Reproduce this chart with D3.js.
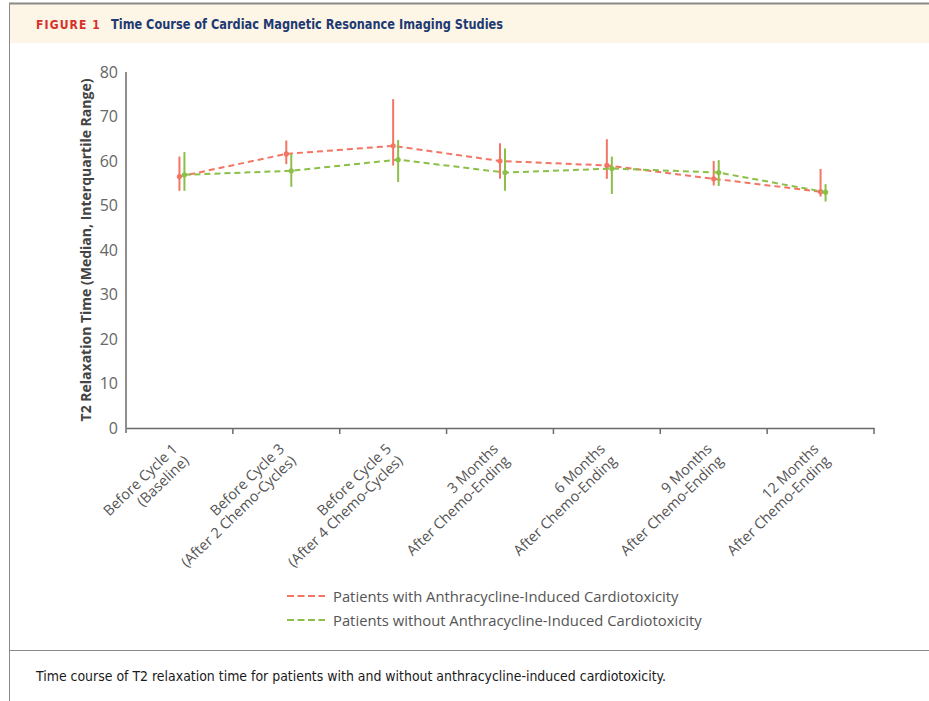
<!DOCTYPE html>
<html>
<head>
<meta charset="utf-8">
<script src="https://cdn.jsdelivr.net/npm/d3@7"></script>
<style>
  html, body { margin: 0; padding: 0; background: #fff; }
  svg { display: block; }
</style>
</head>
<body>
<svg id="fig" width="929" height="701"></svg>
<script>
// Study time points (two-line tick labels)
const timepoints = [
  ["Before Cycle 1", "(Baseline)"],
  ["Before Cycle 3", "(After 2 Chemo-Cycles)"],
  ["Before Cycle 5", "(After 4 Chemo-Cycles)"],
  ["3 Months", "After Chemo-Ending"],
  ["6 Months", "After Chemo-Ending"],
  ["9 Months", "After Chemo-Ending"],
  ["12 Months", "After Chemo-Ending"]
];

// T2 relaxation time (ms): median with interquartile range
const withCardiotox = {
  median: [56.5, 61.6, 63.4, 60.0, 59.0, 56.0, 53.1],
  q1:     [53.3, 59.3, 59.0, 56.0, 56.0, 54.5, 52.0],
  q3:     [61.0, 64.6, 73.9, 64.0, 64.9, 60.0, 58.2]
};
const withoutCardiotox = {
  median: [56.9, 57.8, 60.3, 57.4, 58.3, 57.4, 53.0],
  q1:     [53.3, 54.2, 55.3, 53.3, 52.6, 54.4, 50.9],
  q3:     [62.0, 61.6, 64.7, 62.8, 61.0, 60.2, 54.8]
};

const yTicks = [0, 10, 20, 30, 40, 50, 60, 70, 80];
const seriesNames = [
  "Patients with Anthracycline-Induced Cardiotoxicity",
  "Patients without Anthracycline-Induced Cardiotoxicity"
];
const seriesColors = ["#f37564", "#8cbf47"];

const svg = d3.select("#fig");
const frame = "#8a8a8a";

// Figure frame and header band
svg.append("rect").attr("x", 9).attr("y", 4).attr("width", 920).attr("height", 39).attr("fill", "#fdf6e6");
svg.append("line").attr("x1", 9).attr("x2", 929).attr("y1", 3.5).attr("y2", 3.5).attr("stroke", frame).attr("stroke-width", 2);
svg.append("line").attr("x1", 9.5).attr("x2", 9.5).attr("y1", 3).attr("y2", 701).attr("stroke", frame).attr("stroke-width", 1);
svg.append("line").attr("x1", 9).attr("x2", 929).attr("y1", 650.5).attr("y2", 650.5).attr("stroke", frame).attr("stroke-width", 1);

const condensed = "'Liberation Sans Narrow', 'DejaVu Sans Condensed', 'Arial Narrow', sans-serif";
svg.append("text").attr("x", 36).attr("y", 29)
  .attr("font-family", condensed).attr("font-weight", "bold").attr("font-size", 13)
  .attr("letter-spacing", 1.2).attr("fill", "#d8302a")
  .attr("textLength", 65).attr("lengthAdjust", "spacingAndGlyphs")
  .text("FIGURE 1");
svg.append("text").attr("x", 111).attr("y", 29)
  .attr("font-family", condensed).attr("font-weight", "bold").attr("font-size", 14)
  .attr("fill", "#1d3a72")
  .attr("textLength", 392).attr("lengthAdjust", "spacingAndGlyphs")
  .text("Time Course of Cardiac Magnetic Resonance Imaging Studies");

svg.append("text").attr("x", 36).attr("y", 681)
  .attr("font-family", condensed).attr("font-size", 14.5).attr("fill", "#1a1a1a")
  .attr("textLength", 630).attr("lengthAdjust", "spacingAndGlyphs")
  .text("Time course of T2 relaxation time for patients with and without anthracycline-induced cardiotoxicity.");

// Plot scales
const sans = "'Open Sans', 'Noto Sans', sans-serif";
const x = d3.scaleBand().domain(d3.range(timepoints.length)).range([126, 874]).paddingInner(0).paddingOuter(0);
const y = d3.scaleLinear().domain([0, 80]).range([428, 72]);
const axisColor = "#6b6b6b";

// Y axis
const yAxis = svg.append("g").attr("transform", "translate(126,0)")
  .call(d3.axisLeft(y).tickValues(yTicks).tickSize(0).tickPadding(8));
yAxis.select(".domain").remove();
yAxis.selectAll("text").attr("font-family", sans).attr("font-size", 16).attr("fill", "#666");
svg.append("line").attr("x1", 126).attr("x2", 126).attr("y1", y(80)).attr("y2", y(0) + 5)
  .attr("stroke", axisColor).attr("stroke-width", 1.5);

svg.append("text")
  .attr("transform", `translate(91,${(y(0) + y(80)) / 2}) rotate(-90)`)
  .attr("text-anchor", "middle")
  .attr("font-family", sans).attr("font-weight", "bold").attr("font-size", 14).attr("fill", "#444")
  .text("T2 Relaxation Time (Median, Interquartile Range)");

// X axis: baseline with ticks at band boundaries
const xAxis = svg.append("g").attr("transform", `translate(0,${y(0)})`)
  .call(d3.axisBottom(x).tickSize(0).tickFormat(""));
xAxis.select(".domain").attr("stroke", axisColor).attr("stroke-width", 1.5);
const boundaries = d3.range(1, timepoints.length).map(i => x(i)).concat([x.range()[1]]);
xAxis.selectAll(".bound").data(boundaries).join("line").attr("class", "bound")
  .attr("x1", d => d).attr("x2", d => d).attr("y1", 0).attr("y2", 6)
  .attr("stroke", axisColor).attr("stroke-width", 1.5);

const labels = svg.append("g").selectAll("text").data(timepoints).join("text")
  .attr("transform", (d, i) => `translate(${x(i) + x.bandwidth() / 2 - 1},${y(0) + 22}) rotate(-44)`)
  .attr("text-anchor", "end")
  .attr("font-family", sans).attr("font-size", 14.5).attr("fill", "#555");
labels.selectAll("tspan").data(d => d).join("tspan")
  .attr("x", 0).attr("dy", (d, j) => j === 0 ? 0 : 16.5)
  .text(d => d);

// Series: dashed median line, IQR whiskers, median dots
const series = [withCardiotox, withoutCardiotox];
const offsets = [0, 5];
series.forEach((s, k) => {
  const cx = i => x(i) + x.bandwidth() / 2 + offsets[k];
  const g = svg.append("g");
  g.append("path")
    .datum(s.median)
    .attr("d", d3.line().x((d, i) => cx(i)).y(d => y(d)))
    .attr("fill", "none").attr("stroke", seriesColors[k]).attr("stroke-width", 2)
    .attr("stroke-dasharray", "6,4");
  g.selectAll(".iqr").data(s.median).join("line").attr("class", "iqr")
    .attr("x1", (d, i) => cx(i)).attr("x2", (d, i) => cx(i))
    .attr("y1", (d, i) => y(s.q3[i])).attr("y2", (d, i) => y(s.q1[i]))
    .attr("stroke", seriesColors[k]).attr("stroke-width", 2);
  g.selectAll(".mid").data(s.median).join("circle").attr("class", "mid")
    .attr("cx", (d, i) => cx(i)).attr("cy", d => y(d)).attr("r", 2.6)
    .attr("fill", seriesColors[k]);
});

// Legend
const legend = svg.append("g").selectAll("g").data(seriesNames).join("g")
  .attr("transform", (d, i) => `translate(287,${596 + i * 24})`);
legend.append("line").attr("x1", 0).attr("x2", 38).attr("y1", 0).attr("y2", 0)
  .attr("stroke", (d, i) => seriesColors[i]).attr("stroke-width", 2).attr("stroke-dasharray", "7,3.5");
legend.append("text").attr("x", 46).attr("y", 5.5)
  .attr("font-family", sans).attr("font-size", 14.8).attr("fill", "#555")
  .text(d => d);
</script>
</body>
</html>
